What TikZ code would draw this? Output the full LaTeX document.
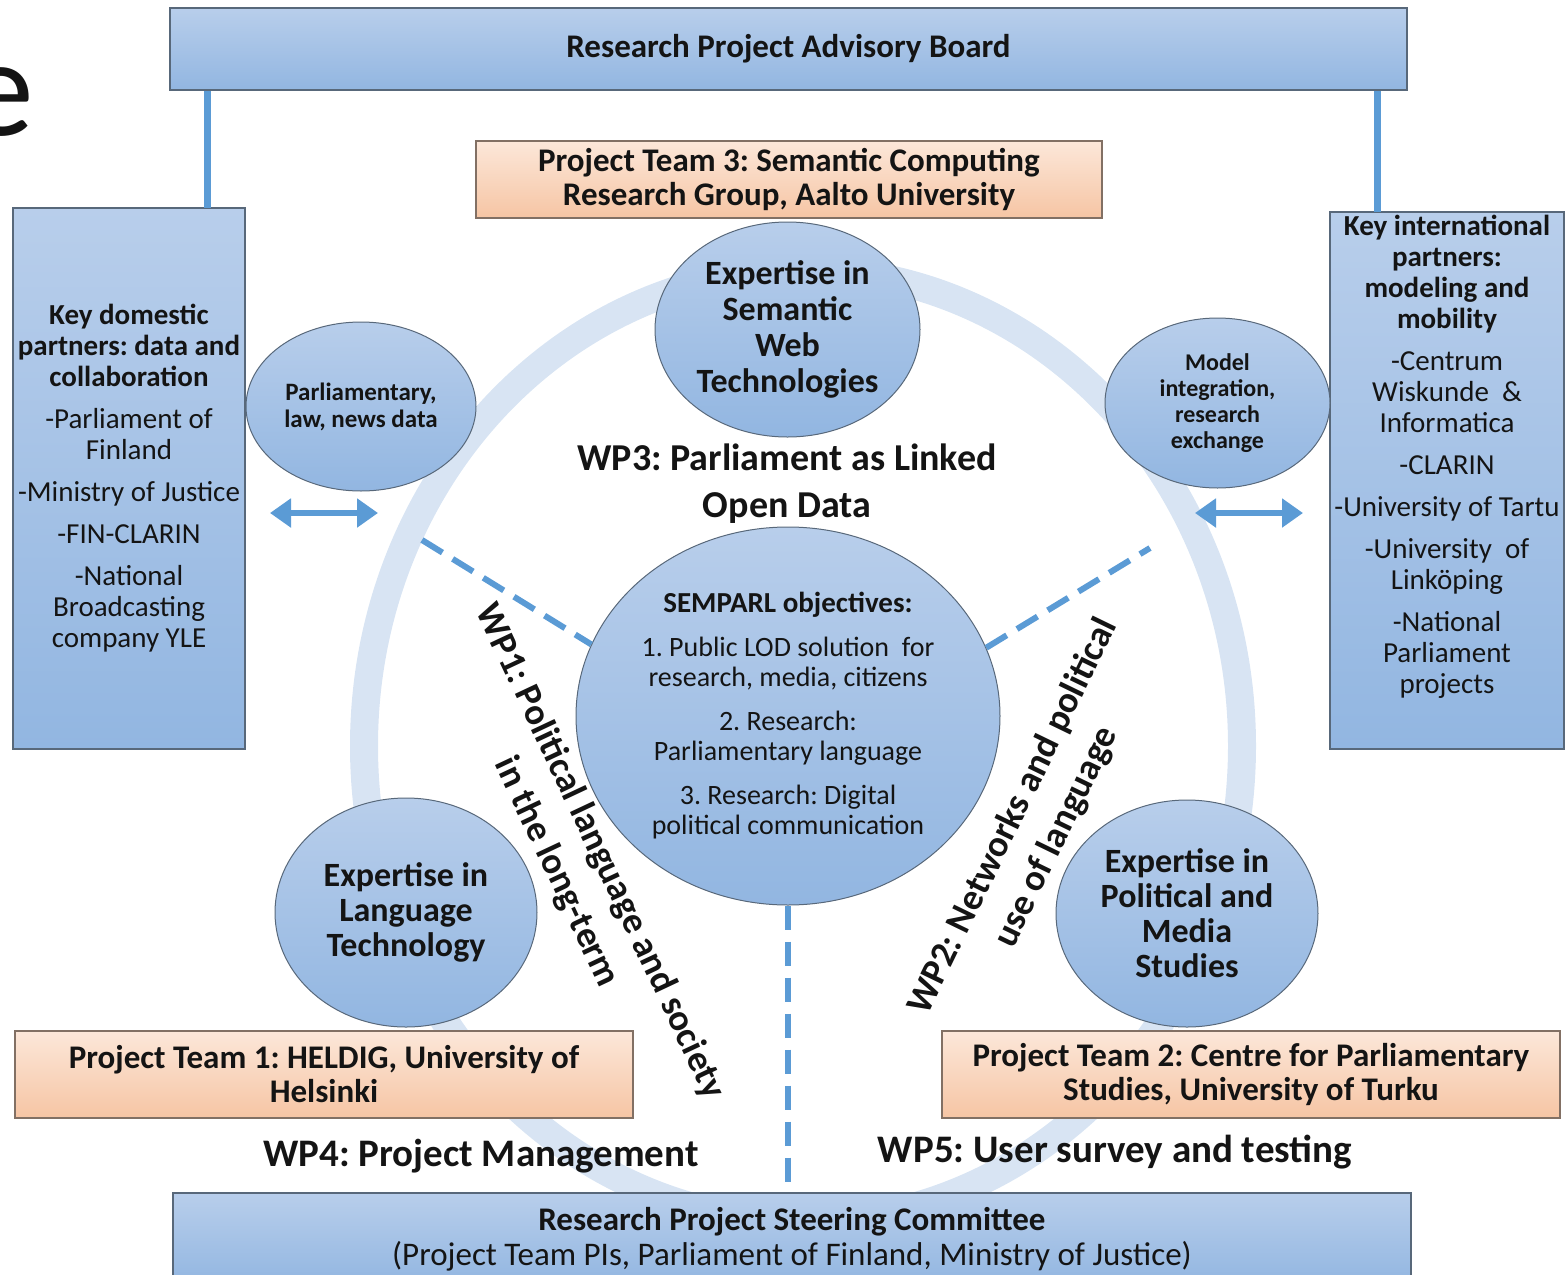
\documentclass[tikz,border=0pt]{standalone}
\usepackage{fontspec}
\setmainfont{Carlito}
\usetikzlibrary{shapes,arrows.meta,positioning}
\usepackage{xcolor}
\definecolor{ink}{RGB}{20,20,20}
\definecolor{boxtop}{RGB}{184,206,235}
\definecolor{boxbot}{RGB}{146,182,225}
\definecolor{boxline}{RGB}{88,104,122}
\definecolor{orgtop}{RGB}{252,231,217}
\definecolor{orgbot}{RGB}{246,197,164}
\definecolor{orgline}{RGB}{130,112,100}
\definecolor{ringblue}{RGB}{216,228,243}
\definecolor{linkblue}{RGB}{91,155,213}
\frenchspacing

\begin{document}
\begin{tikzpicture}[x=1pt,y=-1pt]
      \tikzstyle{bluebox} = [rectangle, draw=boxline, line width=1.5pt, top color=boxtop, bottom color=boxbot, inner sep=0pt, align=center, text=ink]
      \tikzstyle{teambox} = [rectangle, draw=orgline, line width=1.5pt, top color=orgtop, bottom color=orgbot, inner sep=0pt, align=center, text=ink, font=\fontsize{33}{34}\selectfont\bfseries]
      \tikzstyle{bubble} = [ellipse, draw=boxline, line width=1pt, top color=boxtop, bottom color=boxbot, inner sep=0pt, align=center, text=ink]
      \tikzstyle{partner} = [font=\fontsize{29}{31}\selectfont]
      \tikzstyle{wplabel} = [align=center, text=ink, font=\fontsize{37}{48}\selectfont\bfseries]
      \tikzstyle{link} = [linkblue, line width=7pt]
      \tikzstyle{wpline} = [linkblue, line width=6pt, dash pattern=on 24pt off 12pt]
      \tikzstyle{dblarrow} = [linkblue, line width=6pt, {Triangle[length=21pt,width=28pt]}-{Triangle[length=21pt,width=28pt]}]

      \useasboundingbox (0,0) rectangle (1567,1275);
      \node[anchor=base east, text=ink, font=\fontsize{140}{140}\selectfont] (slidetitle) at (38,135) {e};

      % ring of work packages
      \draw[ringblue, line width=28pt] (803,746) ellipse [x radius=439pt, y radius=476pt];

      \coordinate (la1) at (270,513);
      \coordinate (la2) at (378,513);
      \coordinate (ra1) at (1195,513);
      \coordinate (ra2) at (1303,513);
      \draw[dblarrow] (la1) -- (la2);
      \draw[dblarrow] (ra1) -- (ra2);

      \node[bluebox, minimum width=1237pt, minimum height=82pt, font=\fontsize{33}{36}\selectfont\bfseries] (advisory) at (788.5,49) {Research Project Advisory Board};
      \node[bluebox, partner, minimum width=232pt, minimum height=541pt] (domestic) at (129,478.5) {\textbf{Key domestic}\\\textbf{partners: data and}\\\textbf{collaboration}\\[11pt]-Parliament of\\Finland\\[11pt]-Ministry of Justice\\[11pt]-FIN-CLARIN\\[11pt]-National\\Broadcasting\\company YLE};
      \node[bluebox, partner, minimum width=234pt, minimum height=537pt, text depth=52pt] (intl) at (1447,480.5) {\textbf{Key international}\\\textbf{partners:}\\\textbf{modeling and}\\\textbf{mobility}\\[11pt]-Centrum\\Wiskunde~~\&\\Informatica\\[11pt]-CLARIN\\[11pt]-University of Tartu\\[11pt]-University~ of\\Linköping\\[11pt]-National\\Parliament\\projects};

      \coordinate (dtop) at (207,208);
      \coordinate (itop) at (1377,212);
      \draw[link] (dtop) -- (dtop |- advisory.south);
      \draw[link] (itop) -- (itop |- advisory.south);

      \node[teambox, minimum width=626pt, minimum height=77pt] (team3) at (789,179.5) {Project Team 3: Semantic Computing\\Research Group, Aalto University};
      \node[teambox, minimum width=618pt, minimum height=87pt] (team1) at (324,1074.5) {Project Team 1: HELDIG, University of\\Helsinki};
      \node[teambox, minimum width=618pt, minimum height=87pt] (team2) at (1251,1074.5) {Project Team 2: Centre for Parliamentary\\Studies, University of Turku};

      \node[bubble, minimum width=265pt, minimum height=215pt, font=\fontsize{34}{36}\selectfont\bfseries] (semweb) at (787.5,329.5) {Expertise in\\Semantic\\Web\\Technologies};
      \node[bubble, minimum width=230pt, minimum height=169pt, font=\fontsize{25}{27}\selectfont\bfseries] (data) at (361,406.5) {Parliamentary,\\law, news data};
      \node[bubble, minimum width=225pt, minimum height=170pt, font=\fontsize{24}{26}\selectfont\bfseries] (model) at (1217.5,403) {Model\\integration,\\research\\exchange};
      \node[bubble, minimum width=262pt, minimum height=229pt, font=\fontsize{34}{35}\selectfont\bfseries] (langtech) at (406,912.5) {Expertise in\\Language\\Technology};
      \node[bubble, minimum width=262pt, minimum height=227pt, font=\fontsize{34}{35}\selectfont\bfseries] (polmedia) at (1187,913.5) {Expertise in\\Political and\\Media\\Studies};

      \node[bubble, minimum width=424pt, minimum height=378pt, font=\fontsize{28}{30}\selectfont] (semparl) at (788,716) {\fontsize{29}{30}\selectfont\bfseries SEMPARL objectives:\\[14pt]1. Public LOD solution~ for\\research, media, citizens\\[14pt]2. Research:\\Parliamentary language\\[14pt]3. Research: Digital\\political communication};

      \node[bluebox, minimum width=1238pt, minimum height=92pt, font=\fontsize{33}{35}\selectfont] (steering) at (792,1239) {\textbf{Research Project Steering Committee}\\(Project Team PIs, Parliament of Finland, Ministry of Justice)};

      % work package connectors
      \coordinate (wp1end) at (422,540);
      \coordinate (wp2end) at (1150,548);
      \draw[wpline] (wp1end) -- (semparl.160);
      \draw[wpline] (semparl.19) -- (wp2end);
      \draw[wpline] (semparl.south) -- (semparl.south |- steering.north);

      \node[wplabel, font=\fontsize{38}{47}\selectfont\bfseries] (wp3) at (787,484) {WP3: Parliament as Linked\\Open Data};
      \node[wplabel, rotate=-64.8] (wp1) at (578,862) {WP1: Political language and society\\in the long-term};
      \node[wplabel, rotate=64.1] (wp2) at (1035,827) {WP2: Networks and political\\use of language};
      \node[wplabel, font=\fontsize{39}{40}\selectfont\bfseries] (wp4) at (481,1156) {WP4: Project Management};
      \node[wplabel, font=\fontsize{39}{40}\selectfont\bfseries] (wp5) at (1115,1152) {WP5: User survey and testing};
\end{tikzpicture}
\end{document}
